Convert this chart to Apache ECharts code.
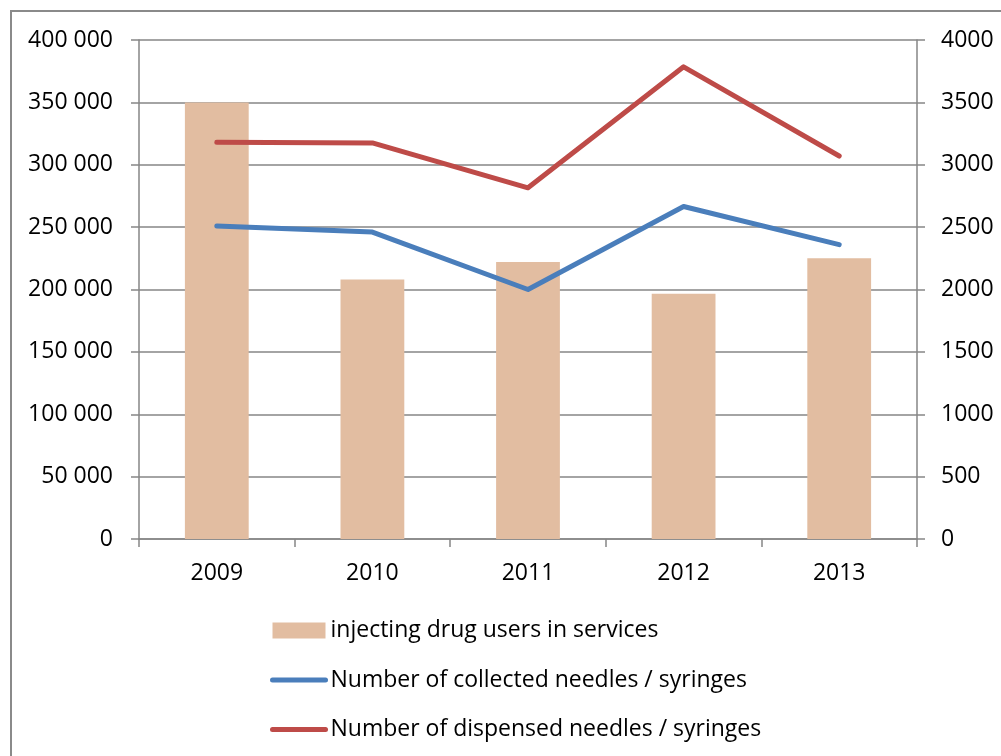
<!DOCTYPE html>
<html>
<head>
<meta charset="utf-8">
<script src="https://cdn.jsdelivr.net/npm/echarts@6/dist/echarts.min.js"></script>
<style>
  html, body { margin: 0; padding: 0; background: #fff; }
  #frame { position: absolute; left: 10px; top: 10px; width: 1100px; height: 900px; border: 2px solid #8a8a8a; box-sizing: border-box; }
  #chart { position: absolute; left: 0; top: 0; width: 1001px; height: 756px; }
</style>
</head>
<body>
<div id="frame"></div>
<div id="chart"></div>
<script>
// Years on the category axis
const years = ['2009', '2010', '2011', '2012', '2013'];
// Injecting drug users reached by services (right axis)
const drugUsers = [3500, 2080, 2220, 1965, 2250];
// Needles / syringes collected (left axis)
const collected = [251000, 246000, 200000, 266500, 236000];
// Needles / syringes dispensed (left axis)
const dispensed = [318000, 317500, 281500, 378500, 307000];

const fontFamily = '"Open Sans", "Noto Sans", sans-serif';
const fontSize = 23;
const gridGray = '#868686';
const blue = '#4A7EBB';
const red = '#BE4B48';

const chart = echarts.init(document.getElementById('chart'));

function spaced(v) {
  return String(v).replace(/\B(?=(\d{3})+(?!\d))/g, ' ');
}

// line legend rows: thick stroke, marker dot hidden
const lineLegend = (name) => ({
  name: name,
  itemStyle: { opacity: 0 },
  lineStyle: { width: 5, cap: 'round' }
});

chart.setOption({
  animation: false,
  textStyle: { fontFamily: fontFamily },
  grid: { left: 139, right: 84, top: 40, bottom: 217 },
  legend: {
    orient: 'vertical',
    left: 270,
    top: 619,
    padding: 0,
    itemWidth: 53,
    itemHeight: 16,
    itemGap: 26.5,
    textStyle: { fontSize: fontSize, color: '#000', fontFamily: fontFamily, lineHeight: 16 },
    data: [
      { name: 'injecting drug users in services', icon: 'rect' },
      lineLegend('Number of collected needles / syringes'),
      lineLegend('Number of dispensed needles / syringes')
    ]
  },
  xAxis: {
    type: 'category',
    data: years,
    boundaryGap: true,
    axisLine: { lineStyle: { color: gridGray, width: 1.5 } },
    axisTick: { show: true, length: 8, lineStyle: { color: gridGray, width: 1.5 } },
    axisLabel: { fontSize: fontSize, color: '#000', margin: 23 }
  },
  yAxis: [
    {
      type: 'value',
      min: 0, max: 400000, interval: 50000,
      axisLine: { show: true, lineStyle: { color: gridGray, width: 1.5 } },
      axisTick: { show: true, length: 8, lineStyle: { color: gridGray, width: 1.5 } },
      splitLine: { lineStyle: { color: gridGray, width: 1.5 } },
      axisLabel: { fontSize: fontSize, color: '#000', margin: 26, formatter: spaced }
    },
    {
      type: 'value',
      min: 0, max: 4000, interval: 500,
      position: 'right',
      axisLine: { show: true, lineStyle: { color: gridGray, width: 1.5 } },
      axisTick: { show: true, length: 8, lineStyle: { color: gridGray, width: 1.5 } },
      splitLine: { show: false },
      axisLabel: { fontSize: fontSize, color: '#000', margin: 24, formatter: (v) => String(v) }
    }
  ],
  series: [
    {
      name: 'injecting drug users in services',
      type: 'bar',
      yAxisIndex: 1,
      data: drugUsers,
      barWidth: '41%',
      itemStyle: { color: '#E2BDA1' }
    },
    {
      name: 'Number of collected needles / syringes',
      type: 'line',
      yAxisIndex: 0,
      data: collected,
      symbol: 'none',
      lineStyle: { color: blue, width: 5, cap: 'round', join: 'round' },
      itemStyle: { color: blue }
    },
    {
      name: 'Number of dispensed needles / syringes',
      type: 'line',
      yAxisIndex: 0,
      data: dispensed,
      symbol: 'none',
      lineStyle: { color: red, width: 5, cap: 'round', join: 'round' },
      itemStyle: { color: red }
    }
  ]
});
</script>
</body>
</html>
